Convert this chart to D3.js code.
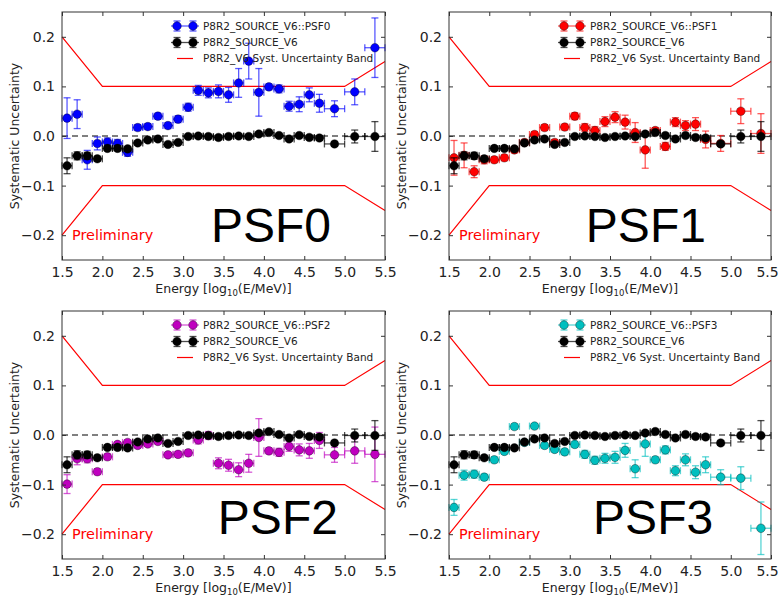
<!DOCTYPE html>
<html lang='en'>
<head>
<meta charset="utf-8">
<title>P8R2 PSF systematic uncertainty</title>
<script src='https://d3js.org/d3.v7.min.js'></script>
<style>
  body { margin: 0; background: #fff; }
</style>
</head>
<body>
<script>
// energy bins (log10 E/MeV) and half widths
var energy = [1.5625, 1.6875, 1.8125, 1.9375, 2.0625, 2.1875, 2.3125, 2.4375, 2.5625, 2.6875,
              2.8125, 2.9375, 3.0625, 3.1875, 3.3125, 3.4375, 3.5625, 3.6875, 3.8125, 3.9375,
              4.0625, 4.1875, 4.3125, 4.4375, 4.5625, 4.6875, 4.875, 5.125, 5.375];
var energyErr = [0.0625, 0.0625, 0.0625, 0.0625, 0.0625, 0.0625, 0.0625, 0.0625, 0.0625, 0.0625,
                 0.0625, 0.0625, 0.0625, 0.0625, 0.0625, 0.0625, 0.0625, 0.0625, 0.0625, 0.0625,
                 0.0625, 0.0625, 0.0625, 0.0625, 0.0625, 0.0625, 0.125, 0.125, 0.125];

// P8R2_SOURCE_V6 (same in every panel)
var sourceV6 = [-0.060, -0.040, -0.040, -0.046, -0.025, -0.025, -0.026, -0.014, -0.008, -0.006,
                -0.017, -0.013, -0.001, 0.000, -0.001, -0.003, -0.001, 0.000, -0.001, 0.004,
                0.007, 0.001, -0.006, 0.001, -0.003, -0.004, -0.016, -0.001, -0.001];
var sourceV6Err = [0.016, 0.008, 0.007, 0.005, 0.004, 0.004, 0.004, 0.004, 0.004, 0.004,
                   0.004, 0.004, 0.004, 0.004, 0.004, 0.004, 0.004, 0.004, 0.004, 0.004,
                   0.004, 0.004, 0.004, 0.004, 0.004, 0.005, 0.005, 0.013, 0.030];

var psf0 = [0.036, 0.044, -0.048, -0.015, -0.012, -0.015, -0.033, 0.017, 0.019, 0.040,
            0.021, 0.034, 0.058, 0.092, 0.087, 0.090, 0.083, 0.107, 0.151, 0.088,
            0.099, 0.095, 0.060, 0.064, 0.083, 0.066, 0.055, 0.089, 0.178];
var psf0Err = [0.041, 0.029, 0.019, 0.013, 0.008, 0.008, 0.008, 0.006, 0.006, 0.006,
               0.006, 0.007, 0.008, 0.010, 0.010, 0.013, 0.015, 0.029, 0.036, 0.048,
               0.006, 0.008, 0.010, 0.015, 0.014, 0.018, 0.016, 0.026, 0.060];

var psf1 = [-0.044, -0.039, -0.072, -0.048, -0.048, -0.044, -0.028, -0.013, 0.003, 0.017,
            -0.013, 0.018, 0.040, 0.017, 0.011, 0.029, 0.038, 0.028, 0.007, -0.028,
            0.011, -0.021, 0.028, 0.021, 0.024, -0.007, -0.015, 0.050, 0.005];
var psf1Err = [0.035, 0.025, 0.012, 0.008, 0.006, 0.006, 0.006, 0.006, 0.006, 0.006,
               0.006, 0.006, 0.007, 0.008, 0.008, 0.010, 0.011, 0.014, 0.020, 0.037,
               0.006, 0.008, 0.009, 0.010, 0.013, 0.017, 0.016, 0.025, 0.040];

var psf2 = [-0.099, -0.048, -0.048, -0.074, -0.044, -0.019, -0.015, -0.021, -0.018, -0.013,
            -0.040, -0.039, -0.036, -0.010, -0.001, -0.057, -0.061, -0.070, -0.057, -0.005,
            -0.032, -0.035, -0.023, -0.030, -0.032, -0.011, -0.040, -0.032, -0.039];
var psf2Err = [0.019, 0.012, 0.008, 0.006, 0.006, 0.005, 0.005, 0.005, 0.005, 0.005,
               0.005, 0.006, 0.006, 0.008, 0.008, 0.011, 0.012, 0.014, 0.018, 0.038,
               0.006, 0.008, 0.010, 0.012, 0.015, 0.016, 0.015, 0.025, 0.055];

var psf3 = [-0.146, -0.081, -0.079, -0.085, -0.050, -0.033, 0.017, -0.015, 0.018, -0.021,
            -0.029, -0.034, -0.019, -0.039, -0.051, -0.047, -0.045, -0.031, -0.068, -0.018,
            -0.050, -0.030, -0.072, -0.050, -0.075, -0.060, -0.085, -0.087, -0.188];
var psf3Err = [0.016, 0.010, 0.008, 0.006, 0.006, 0.005, 0.005, 0.005, 0.005, 0.005,
               0.005, 0.006, 0.006, 0.008, 0.008, 0.010, 0.012, 0.014, 0.018, 0.025,
               0.006, 0.008, 0.010, 0.012, 0.013, 0.016, 0.015, 0.023, 0.053];

// systematic uncertainty band
var bandX = [1.5, 2.0, 5.0, 5.5];
var bandHi = [0.2, 0.1, 0.1, 0.15];
var bandLo = [-0.2, -0.1, -0.1, -0.15];

var xTicks = [1.5, 2.0, 2.5, 3.0, 3.5, 4.0, 4.5, 5.0, 5.5];
var yTicks = [-0.2, -0.1, 0.0, 0.1, 0.2];

var psfNames = ['PSF0', 'PSF1', 'PSF2', 'PSF3'];
var psfColors = ['#0000ff', '#ff0000', '#bf00bf', '#00bfbf'];

var W = 779, H = 597;
var ph = 248;
var font = 'DejaVu Sans, sans-serif';

var svg = d3.select('body').append('svg')
    .attr('width', W)
    .attr('height', H);

var panels = [
    {vals: psf0, errs: psf0Err, left: 62,  top: 12,  w: 323, labX: 3.345, labY: -0.213},
    {vals: psf1, errs: psf1Err, left: 449, top: 12,  w: 322, labX: 3.20,  labY: -0.213},
    {vals: psf2, errs: psf2Err, left: 62,  top: 311, w: 323, labX: 3.43,  labY: -0.200},
    {vals: psf3, errs: psf3Err, left: 449, top: 311, w: 322, labX: 3.29,  labY: -0.200}
];

function drawSeries(g, x, y, vals, errs, color, errColor) {
    var pts = energy.map(function(e, i) {
        return {e: e, xe: energyErr[i], v: vals[i], ve: errs[i]};
    });
    var s = g.append('g');
    var cap = 3.5;
    var eb = s.selectAll('g.eb').data(pts).enter().append('g')
        .attr('stroke', errColor)
        .attr('stroke-width', 1.3);
    // vertical bars + caps
    eb.append('line')
        .attr('x1', function(d){ return x(d.e); })
        .attr('x2', function(d){ return x(d.e); })
        .attr('y1', function(d){ return y(d.v - d.ve); })
        .attr('y2', function(d){ return y(d.v + d.ve); });
    [-1, 1].forEach(function(k) {
        eb.append('line')
            .attr('x1', function(d){ return x(d.e) - cap; })
            .attr('x2', function(d){ return x(d.e) + cap; })
            .attr('y1', function(d){ return y(d.v + k * d.ve); })
            .attr('y2', function(d){ return y(d.v + k * d.ve); });
        eb.append('line')
            .attr('x1', function(d){ return x(d.e + k * d.xe); })
            .attr('x2', function(d){ return x(d.e + k * d.xe); })
            .attr('y1', function(d){ return y(d.v) - cap; })
            .attr('y2', function(d){ return y(d.v) + cap; });
    });
    // horizontal bars
    eb.append('line')
        .attr('x1', function(d){ return x(d.e - d.xe); })
        .attr('x2', function(d){ return x(d.e + d.xe); })
        .attr('y1', function(d){ return y(d.v); })
        .attr('y2', function(d){ return y(d.v); });
    s.selectAll('circle').data(pts).enter().append('circle')
        .attr('cx', function(d){ return x(d.e); })
        .attr('cy', function(d){ return y(d.v); })
        .attr('r', 4.3)
        .attr('fill', color)
        .attr('stroke', '#000')
        .attr('stroke-opacity', 0.6)
        .attr('stroke-width', 0.6);
}

function legendMarker(g, lx, ly, color, errColor) {
    g.append('line')
        .attr('x1', lx - 6).attr('x2', lx + 22)
        .attr('y1', ly).attr('y2', ly)
        .attr('stroke', errColor).attr('stroke-width', 1.3);
    [lx, lx + 16].forEach(function(cx) {
        g.append('line').attr('x1', cx).attr('x2', cx).attr('y1', ly - 5).attr('y2', ly + 5)
            .attr('stroke', errColor).attr('stroke-width', 1.3);
        g.append('line').attr('x1', cx - 3.5).attr('x2', cx + 3.5).attr('y1', ly - 5).attr('y2', ly - 5)
            .attr('stroke', errColor).attr('stroke-width', 1.3);
        g.append('line').attr('x1', cx - 3.5).attr('x2', cx + 3.5).attr('y1', ly + 5).attr('y2', ly + 5)
            .attr('stroke', errColor).attr('stroke-width', 1.3);
        g.append('circle').attr('cx', cx).attr('cy', ly).attr('r', 4.3)
            .attr('fill', color).attr('stroke', '#000').attr('stroke-opacity', 0.6).attr('stroke-width', 0.6);
    });
}

panels.forEach(function(p, idx) {
    var color = psfColors[idx];
    var pw = p.w;
    var g = svg.append('g').attr('transform', 'translate(' + p.left + ',' + p.top + ')');

    var x = d3.scaleLinear().domain([1.5, 5.5]).range([0, pw]);
    var y = d3.scaleLinear().domain([-0.25, 0.25]).range([ph, 0]);

    // band
    var line = d3.line()
        .x(function(d){ return x(d[0]); })
        .y(function(d){ return y(d[1]); });
    [bandHi, bandLo].forEach(function(b) {
        g.append('path')
            .datum(bandX.map(function(bx, i){ return [bx, b[i]]; }))
            .attr('d', line)
            .attr('fill', 'none')
            .attr('stroke', '#ff0000')
            .attr('stroke-width', 1.2);
    });

    // zero line
    g.append('line')
        .attr('x1', x(1.5)).attr('x2', x(5.5))
        .attr('y1', y(0)).attr('y2', y(0))
        .attr('stroke', '#000')
        .attr('stroke-width', 1)
        .attr('stroke-dasharray', '6,4');

    drawSeries(g, x, y, p.vals, p.errs, color, d3.color(color).copy({opacity: 0.65}));
    drawSeries(g, x, y, sourceV6, sourceV6Err, '#000', 'rgba(0,0,0,0.7)');

    // axes, ticks inside on all four sides
    var fmt = d3.format('.1f');
    var bottom = g.append('g').attr('transform', 'translate(0,' + ph + ')')
        .call(d3.axisBottom(x).tickValues(xTicks).tickFormat(fmt).tickSize(-4).tickPadding(7));
    var left = g.append('g')
        .call(d3.axisLeft(y).tickValues(yTicks).tickFormat(fmt).tickSize(-4).tickPadding(7));
    var top = g.append('g')
        .call(d3.axisTop(x).tickValues(xTicks).tickFormat('').tickSize(-4));
    var right = g.append('g').attr('transform', 'translate(' + pw + ',0)')
        .call(d3.axisRight(y).tickValues(yTicks).tickFormat('').tickSize(-4));
    [bottom, left, top, right].forEach(function(a) {
        a.select('.domain').remove();
        a.selectAll('line').attr('stroke', '#333');
        a.selectAll('text')
            .style('font-family', font)
            .attr('font-size', '14px')
            .attr('fill', '#222');
    });
    // right-hand panels sit against the page edge: nudge the last label in
    if (p.left + pw > W - 10) {
        bottom.selectAll('.tick text')
            .filter(function(d){ return d === 5.5; })
            .attr('x', -4);
    }

    g.append('rect')
        .attr('width', pw).attr('height', ph)
        .attr('fill', 'none')
        .attr('stroke', '#333')
        .attr('stroke-width', 1);

    // legend
    var lg = g.append('g');
    var legendText = ['P8R2_SOURCE_V6::' + psfNames[idx], 'P8R2_SOURCE_V6', 'P8R2_V6 Syst. Uncertainty Band'];
    legendMarker(lg, 115, 14, color, d3.color(color).copy({opacity: 0.65}));
    legendMarker(lg, 115, 30.5, '#000', 'rgba(0,0,0,0.7)');
    lg.append('line')
        .attr('x1', 115).attr('x2', 131)
        .attr('y1', 46.5).attr('y2', 46.5)
        .attr('stroke', '#ff0000').attr('stroke-width', 1.2);
    lg.selectAll('text').data(legendText).enter().append('text')
        .attr('x', 141)
        .attr('y', function(d, i){ return 14 + i * 16.3; })
        .attr('dy', '0.36em')
        .style('font-family', font)
        .attr('font-size', '10.5px')
        .attr('fill', '#222')
        .text(function(d){ return d; });

    // axis titles
    g.append('text')
        .attr('transform', 'translate(-43,' + (ph / 2) + ') rotate(-90)')
        .attr('text-anchor', 'middle')
        .style('font-family', font)
        .attr('font-size', '12.5px')
        .attr('fill', '#222')
        .text('Systematic Uncertainty');

    var xt = g.append('text')
        .attr('x', pw / 2)
        .attr('y', ph + 33)
        .attr('text-anchor', 'middle')
        .style('font-family', font)
        .attr('font-size', '12.5px')
        .attr('fill', '#222');
    xt.append('tspan').text('Energy [log');
    xt.append('tspan').attr('font-size', '8.5px').attr('dy', 3).text('10');
    xt.append('tspan').attr('dy', -3).text('(E/MeV)]');

    // annotations
    g.append('text')
        .attr('x', 10)
        .attr('y', 228)
        .style('font-family', font)
        .attr('font-size', '14.4px')
        .attr('fill', '#ff0000')
        .text('Preliminary');

    g.append('text')
        .attr('x', x(p.labX))
        .attr('y', y(p.labY))
        .style('font-family', '"Liberation Sans", Arial, sans-serif')
        .attr('font-size', '48px')
        .attr('fill', '#000')
        .text(psfNames[idx]);
});
</script>
</body>
</html>
